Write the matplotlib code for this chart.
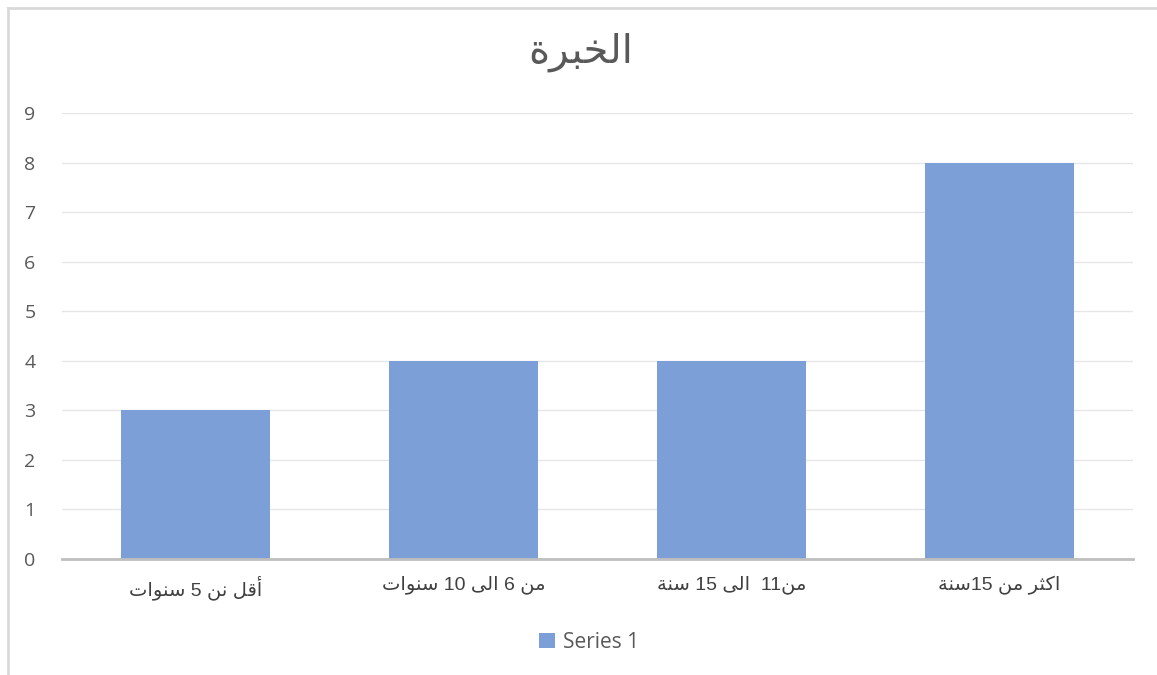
import re
import matplotlib
matplotlib.use("Agg")
import matplotlib.pyplot as plt
from matplotlib.lines import Line2D

# ---- data ----
title = "الخبرة"
categories = ["أقل نن 5 سنوات", "من 6 الى 10 سنوات", "من11  الى 15 سنة", "اكثر من 15سنة"]
values = [3, 4, 4, 8]
series_name = "Series 1"
yticks = [0, 1, 2, 3, 4, 5, 6, 7, 8, 9]

# ---- minimal Arabic shaping + RTL visual ordering ----
FORMS = {
    'ا': (0xFE8D, 0xFE8E, None, None),
    'أ': (0xFE83, 0xFE84, None, None),
    'ب': (0xFE8F, 0xFE90, 0xFE91, 0xFE92),
    'ة': (0xFE93, 0xFE94, None, None),
    'ت': (0xFE95, 0xFE96, 0xFE97, 0xFE98),
    'ث': (0xFE99, 0xFE9A, 0xFE9B, 0xFE9C),
    'خ': (0xFEA5, 0xFEA6, 0xFEA7, 0xFEA8),
    'ر': (0xFEAD, 0xFEAE, None, None),
    'س': (0xFEB1, 0xFEB2, 0xFEB3, 0xFEB4),
    'ق': (0xFED5, 0xFED6, 0xFED7, 0xFED8),
    'ك': (0xFED9, 0xFEDA, 0xFEDB, 0xFEDC),
    'ل': (0xFEDD, 0xFEDE, 0xFEDF, 0xFEE0),
    'م': (0xFEE1, 0xFEE2, 0xFEE3, 0xFEE4),
    'ن': (0xFEE5, 0xFEE6, 0xFEE7, 0xFEE8),
    'و': (0xFEED, 0xFEEE, None, None),
    'ى': (0xFEEF, 0xFEF0, None, None),
}


def shape(text):
    out = []
    n = len(text)
    for i, c in enumerate(text):
        if c not in FORMS:
            out.append(c)
            continue
        f = FORMS[c]
        prev_j = i > 0 and text[i - 1] in FORMS and FORMS[text[i - 1]][2] is not None
        next_j = f[2] is not None and i + 1 < n and text[i + 1] in FORMS
        if prev_j and next_j:
            cp = f[3]
        elif prev_j:
            cp = f[1]
        elif next_j:
            cp = f[2]
        else:
            cp = f[0]
        out.append(chr(cp))
    s = "".join(out)[::-1]
    return re.sub(r"[0-9]+", lambda m: m.group()[::-1], s)


AR_FAMILY = ["Liberation Sans", "DejaVu Sans"]

fig = plt.figure(figsize=(11.57, 6.75), dpi=100)
fig.patch.set_facecolor("white")
ax = fig.add_axes([62 / 1157, 1 - 559 / 675, (1133 - 62) / 1157, (559 - 113) / 675])

x = list(range(len(categories)))
ax.bar(x, values, width=0.556, color="#7C9FD7", label=series_name, zorder=3)

ax.set_xlim(-0.5, len(categories) - 0.5)
ax.set_ylim(0, 9)
ax.set_yticks(yticks)
ax.set_yticklabels([str(t) for t in yticks], fontsize=14, color="#595959",
                   fontfamily="Open Sans")
ax.set_xticks(x)
ax.set_xticklabels([shape(c) for c in categories], fontsize=14, color="#404040",
                   fontfamily=AR_FAMILY)
ax.tick_params(axis="y", length=0, pad=19)
ax.tick_params(axis="x", length=0, pad=12)

ax.grid(axis="y", color="#E6E6E6", linewidth=1, zorder=0)
ax.set_axisbelow(True)
for s in ["top", "right", "left"]:
    ax.spines[s].set_visible(False)
ax.spines["bottom"].set_color("#BFBFBF")
ax.spines["bottom"].set_linewidth(2)
ax.spines["bottom"].set_zorder(4)

fig.text(581 / 1157, 1 - 52 / 675, shape(title), ha="center", va="center",
         fontsize=29, color="#595959", fontfamily=AR_FAMILY)

leg = ax.legend(loc="center", bbox_to_anchor=(589 / 1157, 1 - 642 / 675),
                bbox_transform=fig.transFigure, frameon=False,
                handlelength=0.75, handleheight=0.75, handletextpad=0.4,
                prop={"family": "Open Sans", "size": 15})
for t in leg.get_texts():
    t.set_color("#595959")

# outer chart frame (left and top edges visible)
fig.add_artist(Line2D([8 / 1157, 8 / 1157], [0, 1 - 8 / 675],
                      transform=fig.transFigure, color="#D9D9D9", linewidth=2))
fig.add_artist(Line2D([8 / 1157, 1], [1 - 8 / 675, 1 - 8 / 675],
                      transform=fig.transFigure, color="#D9D9D9", linewidth=2))

fig.savefig("out.png", dpi=100, facecolor="white")
